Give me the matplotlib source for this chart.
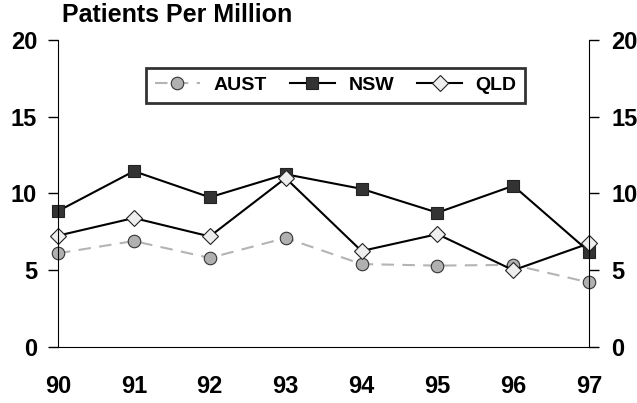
import matplotlib.pyplot as plt

plt.rcParams['font.family'] = ['Liberation Sans', 'DejaVu Sans']
plt.rcParams['font.weight'] = 'bold'

years = ["90", "91", "92", "93", "94", "95", "96", "97"]
aust = [6.1, 6.9, 5.8, 7.1, 5.4, 5.3, 5.35, 4.2]
nsw = [8.85, 11.45, 9.75, 11.25, 10.3, 8.75, 10.5, 6.2]
qld = [7.25, 8.4, 7.2, 11.0, 6.25, 7.35, 5.0, 6.75]

x = list(range(len(years)))

fig = plt.figure(figsize=(6.37, 4.03), dpi=100)
ax = fig.add_axes([0.091, 0.139, 0.834, 0.762])

ax.plot(x, aust, color="#b4b4b4", lw=1.5, dashes=(6, 4), marker="o", ms=9,
        mfc="#b0b0b0", mec="#333333", mew=0.8, label="AUST", clip_on=False)
ax.plot(x, nsw, color="black", lw=1.5, marker="s", ms=8,
        mfc="#333333", mec="#222222", mew=0.8, label="NSW", clip_on=False)
ax.plot(x, qld, color="black", lw=1.5, marker="D", ms=8.5,
        mfc="#eeeeee", mec="#222222", mew=0.8, label="QLD", clip_on=False)

ax.set_xlim(0, 7)
ax.set_ylim(0, 20)
ax.set_xticks(x)
ax.set_xticklabels(years)
ax.set_yticks([0, 5, 10, 15, 20])
ax.tick_params(axis="x", length=0, pad=20, labelsize=17)
ax.tick_params(axis="y", length=7, width=1, labelsize=17, pad=8)
ax.spines["top"].set_visible(False)
ax.spines["right"].set_visible(False)

ax2 = ax.twinx()
ax2.set_ylim(0, 20)
ax2.set_yticks([0, 5, 10, 15, 20])
ax2.tick_params(axis="y", length=7, width=1, labelsize=17, pad=9)
ax2.spines["top"].set_visible(False)
ax2.spines["left"].set_visible(False)
ax2.spines["bottom"].set_visible(False)

fig.text(0.097, 0.963, "Patients Per Million", fontsize=18, fontweight="bold",
         va="center", ha="left")

leg = ax.legend(loc="center", bbox_to_anchor=(0.523, 0.852), ncol=3,
                frameon=True, fancybox=False, fontsize=14, handlelength=2.3,
                handletextpad=0.7, columnspacing=1.2, borderpad=0.45,
                borderaxespad=0, edgecolor="black")
leg.get_frame().set_linewidth(2)

fig.savefig("out.png", dpi=100)
